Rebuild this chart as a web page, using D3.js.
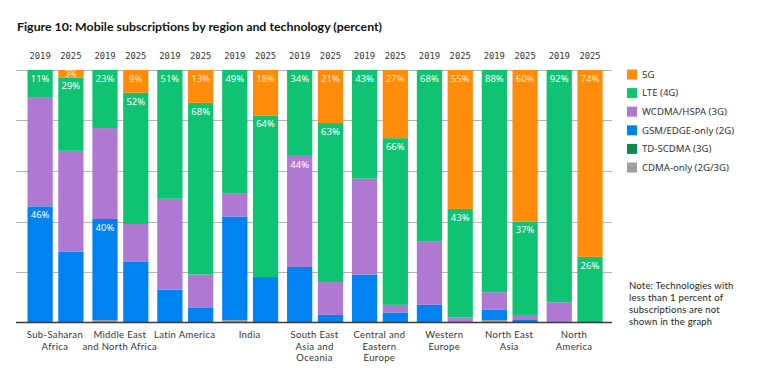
<!DOCTYPE html>
<html>
<head>
<meta charset="utf-8">
<script src="https://cdn.jsdelivr.net/npm/d3@7"></script>
<style>
  html, body { margin: 0; padding: 0; background: #fff; }
  svg { display: block; }
</style>
</head>
<body>
<svg id="chart" width="759" height="368"></svg>
<script>
// ---------- DATA ----------
const regions = ["Sub-Saharan Africa", "Middle East and North Africa", "Latin America", "India",
  "South East Asia and Oceania", "Central and Eastern Europe", "Western Europe", "North East Asia", "North America"];
const regionLabelLines = [
  ["Sub-Saharan", "Africa"], ["Middle East", "and North Africa"], ["Latin America"], ["India"],
  ["South East", "Asia and", "Oceania"], ["Central and", "Eastern", "Europe"], ["Western", "Europe"],
  ["North East", "Asia"], ["North", "America"]
];
const years = ["2019", "2025"];
// values per bar, order: region0-2019, region0-2025, region1-2019, ...
const cdma    = [0, 0, 1, 0, 0, 0, 1, 0, 0, 0, 0, 0, 0, 0, 1, 0, 0, 0];
const gsm     = [46, 28, 40, 24, 13, 6, 41, 18, 22, 3, 19, 4, 7, 0, 4, 1, 0, 0];
const tdscdma = [0, 0, 0, 0, 0, 0, 0, 0, 0, 0, 0, 0, 0, 0, 0, 0, 0, 0];
const wcdma   = [43, 40, 36, 15, 36, 13, 9, 0, 44, 13, 38, 3, 25, 2, 7, 2, 8, 0];
const lte     = [11, 29, 23, 52, 51, 68, 49, 64, 34, 63, 43, 66, 68, 43, 88, 37, 92, 26];
const fiveg   = [0, 3, 0, 9, 0, 13, 0, 18, 0, 21, 0, 27, 0, 55, 0, 60, 0, 74];
// which segments carry a printed percentage label
const labelled = [
  ["lte", "gsm"], ["fiveg", "lte"], ["lte", "gsm"], ["fiveg", "lte"], ["lte"], ["fiveg", "lte"],
  ["lte"], ["fiveg", "lte"], ["lte", "wcdma"], ["fiveg", "lte"], ["lte"], ["fiveg", "lte"],
  ["lte"], ["fiveg", "lte"], ["lte"], ["fiveg", "lte"], ["lte"], ["fiveg", "lte"]
];
const stackKeys = ["cdma", "gsm", "tdscdma", "wcdma", "lte", "fiveg"];
const legendKeys = ["fiveg", "lte", "wcdma", "gsm", "tdscdma", "cdma"];
const legendNames = {fiveg: "5G", lte: "LTE (4G)", wcdma: "WCDMA/HSPA (3G)", gsm: "GSM/EDGE-only (2G)",
  tdscdma: "TD-SCDMA (3G)", cdma: "CDMA-only (2G/3G)"};
const colors = {fiveg: "#FF8C0A", lte: "#0FC373", wcdma: "#AF78D2", gsm: "#0082F0", tdscdma: "#0A8A4E", cdma: "#A0A0A0"};
const yTicks = [0, 20, 40, 60, 80, 100];
const noteLines = ["Note: Technologies with", "less than 1 percent of", "subscriptions are not", "shown in the graph"];
const titleText = "Figure 10: Mobile subscriptions by region and technology (percent)";

// ---------- BUILD ----------
const series = {cdma, gsm, tdscdma, wcdma, lte, fiveg};
const rows = [];
regions.forEach((r, i) => years.forEach((yr, j) => {
  const k = i * 2 + j;
  const row = {region: r, year: yr, idx: k};
  stackKeys.forEach(key => row[key] = series[key][k]);
  rows.push(row);
}));

const svg = d3.select("#chart");
const y = d3.scaleLinear().domain([0, 100]).range([322.5, 70]);
const x0 = d3.scaleBand().domain(regions).range([23, 607]).padding(0);
const x1 = d3.scaleBand().domain(years).range([4.5, 60.5]).paddingInner(0.18);

// title
svg.append("text")
  .attr("x", 17).attr("y", 31)
  .attr("font-family", "Lato, 'Noto Sans', sans-serif")
  .attr("font-weight", "bold").attr("font-size", 11.5)
  .attr("fill", "#111")
  .attr("textLength", 365).attr("lengthAdjust", "spacingAndGlyphs")
  .text(titleText);

// grid
const grid = svg.append("g");
grid.selectAll("line").data(yTicks.filter(d => d > 0)).join("line")
  .attr("x1", 16).attr("x2", 612)
  .attr("y1", d => Math.round(y(d)) + 0.5).attr("y2", d => Math.round(y(d)) + 0.5)
  .attr("stroke", "#b4b4b4").attr("stroke-width", 1);

// bars
const stacked = d3.stack().keys(stackKeys)(rows);
const barX = d => x0(d.data.region) + x1(d.data.year);
const layers = svg.append("g").selectAll("g").data(stacked).join("g")
  .attr("fill", s => colors[s.key]);
layers.selectAll("rect").data(s => s.filter(d => d[1] - d[0] > 0)).join("rect")
  .attr("x", barX)
  .attr("width", x1.bandwidth())
  .attr("y", d => y(d[1]))
  .attr("height", d => y(d[0]) - y(d[1]));

// baseline
svg.append("line")
  .attr("x1", 16).attr("x2", 612).attr("y1", y(0)).attr("y2", y(0))
  .attr("stroke", "#3a3a3a").attr("stroke-width", 1.5);

// value labels
const labelData = [];
stacked.forEach(s => s.forEach(d => {
  if (labelled[d.data.idx].includes(s.key)) labelData.push({key: s.key, d});
}));
svg.append("g").selectAll("text").data(labelData).join("text")
  .attr("x", l => barX(l.d) + x1.bandwidth() / 2)
  .attr("y", l => {
    const top = y(l.d[1]), bot = y(l.d[0]);
    return Math.min(top + 8.5, (top + bot) / 2 + 0.5);
  })
  .attr("dy", "0.35em")
  .attr("text-anchor", "middle")
  .attr("font-family", "'Noto Sans', sans-serif")
  .attr("font-size", l => (y(l.d[0]) - y(l.d[1])) < 12 ? 8.5 : 9.5)
  .attr("fill", l => l.key === "fiveg" ? "#ffe9cf" : "#ffffff")
  .text(l => (l.d[1] - l.d[0]) + "%");

// year headers
const hdr = svg.append("g");
regions.forEach(r => years.forEach(yr => {
  hdr.append("text")
    .attr("x", x0(r) + x1(yr) + x1.bandwidth() / 2)
    .attr("y", 56).attr("dy", "0.35em")
    .attr("text-anchor", "middle")
    .attr("font-family", "'DejaVu Sans Mono', monospace")
    .attr("font-size", 8.8).attr("fill", "#333")
    .text(yr);
}));

// region labels (one text per line)
const xl = svg.append("g");
regions.forEach((r, i) => {
  regionLabelLines[i].forEach((ln, j) => {
    xl.append("text")
      .attr("x", x0(r) + x0.bandwidth() / 2 - 0.5)
      .attr("y", 338 + j * 11.5)
      .attr("text-anchor", "middle")
      .attr("font-family", "Lato, sans-serif")
      .attr("font-size", 9.5).attr("letter-spacing", 0.35)
      .attr("fill", "#333")
      .text(ln);
  });
});

// legend
const lg = svg.append("g");
legendKeys.forEach((k, i) => {
  const cy = 74.5 + i * 18.6;
  lg.append("rect").attr("x", 627).attr("y", cy - 5).attr("width", 10).attr("height", 10)
    .attr("fill", colors[k]);
  lg.append("text").attr("x", 642).attr("y", cy).attr("dy", "0.35em")
    .attr("font-family", "'Noto Sans', sans-serif").attr("font-size", 9.6)
    .attr("fill", "#333").text(legendNames[k]);
});

// note
noteLines.forEach((ln, j) => {
  svg.append("text")
    .attr("x", 629).attr("y", 289 + j * 12)
    .attr("font-family", "Lato, sans-serif").attr("font-size", 9.5)
    .attr("letter-spacing", 0.2)
    .attr("fill", "#222").text(ln);
});
</script>
</body>
</html>
